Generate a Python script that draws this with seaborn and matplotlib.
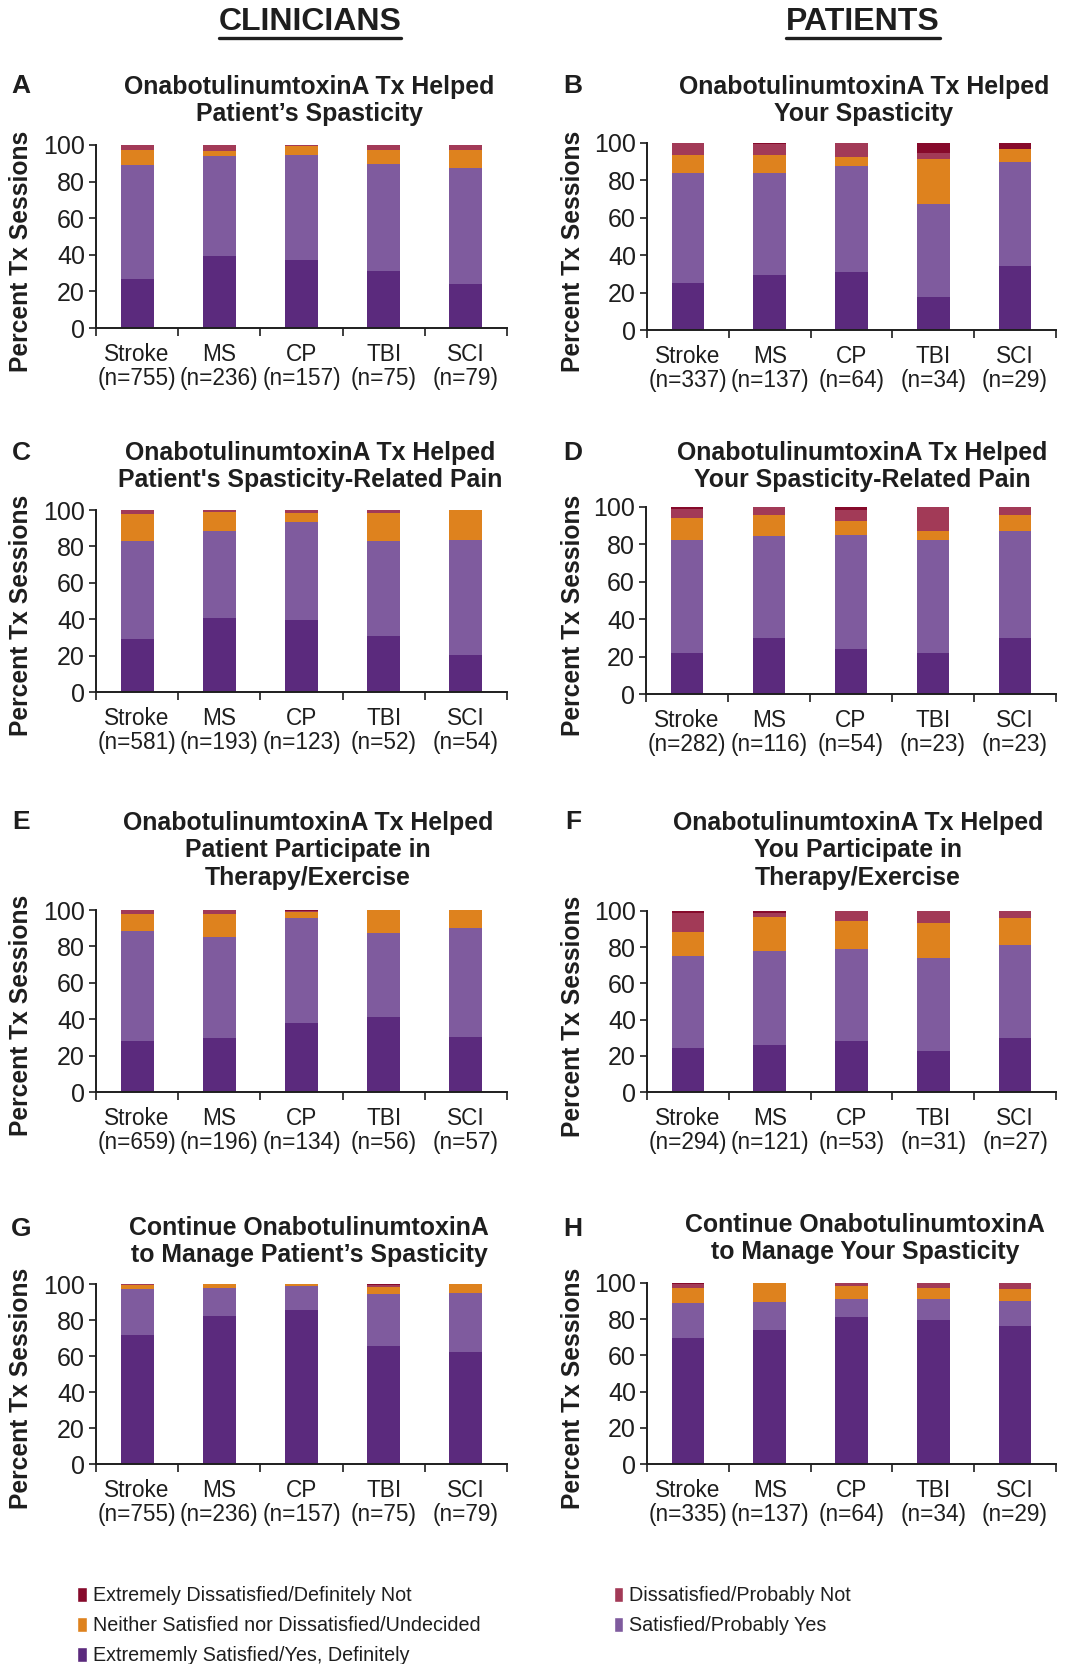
import matplotlib
matplotlib.use("Agg")
import matplotlib.pyplot as plt
from matplotlib.patches import Patch
from matplotlib.lines import Line2D
import seaborn as sns

# ---------------- data ----------------
categories = ["Stroke", "MS", "CP", "TBI", "SCI"]
levels = ["Extremely Dissatisfied/Definitely Not", "Dissatisfied/Probably Not",
          "Neither Satisfied nor Dissatisfied/Undecided", "Satisfied/Probably Yes",
          "Extrememly Satisfied/Yes, Definitely"]

n_A = [755, 236, 157, 75, 79]
n_B = [337, 137, 64, 34, 29]
n_C = [581, 193, 123, 52, 54]
n_D = [282, 116, 54, 23, 23]
n_E = [659, 196, 134, 56, 57]
n_F = [294, 121, 53, 31, 27]
n_G = [755, 236, 157, 75, 79]
n_H = [335, 137, 64, 34, 29]

# segments per panel, bottom to top: ext. satisfied, satisfied, neither, dissatisfied, ext. dissatisfied
A_ext_sat = [27.0, 39.5, 37.0, 31.0, 24.0]
A_sat = [62.0, 54.7, 57.4, 58.5, 63.5]
A_neither = [8.3, 2.3, 4.9, 7.8, 10.0]
A_dissat = [2.7, 3.5, 0.7, 2.7, 2.5]
A_ext_dis = [0.0, 0.0, 0.0, 0.0, 0.0]

B_ext_sat = [25.2, 29.3, 31.1, 17.7, 34.3]
B_sat = [58.5, 54.8, 56.7, 49.9, 55.3]
B_neither = [9.7, 9.6, 4.9, 23.6, 7.2]
B_dissat = [6.6, 5.8, 7.3, 3.3, 0.0]
B_ext_dis = [0.0, 0.5, 0.0, 5.5, 3.2]

C_ext_sat = [28.9, 40.5, 39.7, 30.8, 20.5]
C_sat = [54.3, 48.1, 53.9, 52.0, 62.8]
C_neither = [14.4, 10.5, 4.6, 15.4, 16.7]
C_dissat = [2.4, 0.9, 1.8, 1.8, 0.0]
C_ext_dis = [0.0, 0.0, 0.0, 0.0, 0.0]

D_ext_sat = [21.7, 29.9, 23.9, 21.7, 30.1]
D_sat = [60.8, 54.4, 61.3, 60.8, 56.9]
D_neither = [11.8, 11.4, 7.3, 4.5, 8.7]
D_dissat = [4.6, 4.3, 5.9, 13.0, 4.3]
D_ext_dis = [1.1, 0.0, 1.6, 0.0, 0.0]

E_ext_sat = [27.8, 29.5, 38.1, 41.0, 30.0]
E_sat = [60.7, 55.7, 57.5, 46.5, 59.9]
E_neither = [9.5, 12.4, 3.5, 12.5, 10.1]
E_dissat = [2.0, 2.4, 0.4, 0.0, 0.0]
E_ext_dis = [0.0, 0.0, 0.5, 0.0, 0.0]

F_ext_sat = [24.4, 25.7, 28.3, 22.4, 29.6]
F_sat = [51.0, 52.1, 50.9, 51.7, 51.7]
F_neither = [13.0, 19.1, 15.3, 19.3, 14.8]
F_dissat = [10.7, 2.2, 5.5, 6.6, 3.9]
F_ext_dis = [0.9, 0.9, 0.0, 0.0, 0.0]

G_ext_sat = [71.6, 82.4, 85.3, 65.5, 62.2]
G_sat = [25.8, 15.4, 13.8, 29.1, 32.8]
G_neither = [2.0, 2.2, 0.9, 3.9, 5.0]
G_dissat = [0.6, 0.0, 0.0, 1.0, 0.0]
G_ext_dis = [0.0, 0.0, 0.0, 0.5, 0.0]

H_ext_sat = [69.4, 73.8, 81.2, 79.4, 76.1]
H_sat = [19.4, 15.5, 9.8, 11.8, 13.8]
H_neither = [8.4, 10.7, 7.5, 5.8, 6.8]
H_dissat = [2.2, 0.0, 1.5, 3.0, 3.3]
H_ext_dis = [0.6, 0.0, 0.0, 0.0, 0.0]

titles = {
    "A": "OnabotulinumtoxinA Tx Helped\nPatient\u2019s Spasticity",
    "B": "OnabotulinumtoxinA Tx Helped\nYour Spasticity",
    "C": "OnabotulinumtoxinA Tx Helped\nPatient's Spasticity-Related Pain",
    "D": "OnabotulinumtoxinA Tx Helped\nYour Spasticity-Related Pain",
    "E": "OnabotulinumtoxinA Tx Helped\nPatient Participate in\nTherapy/Exercise",
    "F": "OnabotulinumtoxinA Tx Helped\nYou Participate in\nTherapy/Exercise",
    "G": "Continue OnabotulinumtoxinA\nto Manage Patient\u2019s Spasticity",
    "H": "Continue OnabotulinumtoxinA\nto Manage Your Spasticity",
}

panels = {
    "A": (n_A, [A_ext_sat, A_sat, A_neither, A_dissat, A_ext_dis]),
    "B": (n_B, [B_ext_sat, B_sat, B_neither, B_dissat, B_ext_dis]),
    "C": (n_C, [C_ext_sat, C_sat, C_neither, C_dissat, C_ext_dis]),
    "D": (n_D, [D_ext_sat, D_sat, D_neither, D_dissat, D_ext_dis]),
    "E": (n_E, [E_ext_sat, E_sat, E_neither, E_dissat, E_ext_dis]),
    "F": (n_F, [F_ext_sat, F_sat, F_neither, F_dissat, F_ext_dis]),
    "G": (n_G, [G_ext_sat, G_sat, G_neither, G_dissat, G_ext_dis]),
    "H": (n_H, [H_ext_sat, H_sat, H_neither, H_dissat, H_ext_dis]),
}

# colours bottom to top
seg_colors = ["#5B2A7D", "#7F5B9E", "#DE821E", "#A23A57", "#860A2B"]

# ---------------- layout (pixels) ----------------
W, H = 1073, 1664
boxes = {
    "A": (96, 145, 507, 328), "B": (647, 143, 1056, 330),
    "C": (96, 510, 507, 692), "D": (646, 507, 1056, 694),
    "E": (96, 910, 507, 1092), "F": (647, 911, 1056, 1092),
    "G": (96, 1284, 507, 1464), "H": (647, 1283, 1056, 1464),
}
title_tops = {"A": 75, "B": 75, "C": 441, "D": 441, "E": 811, "F": 811, "G": 1216, "H": 1213}
title_cx = {"A": 309, "B": 864, "C": 310, "D": 862, "E": 308, "F": 858, "G": 309, "H": 865}
letter_pos = {"A": (21, 86), "B": (573, 86), "C": (21, 453), "D": (573, 453),
              "E": (21, 822), "F": (573, 822), "G": (21, 1229), "H": (573, 1229)}

sns.set_style("ticks")
plt.rcParams["font.family"] = ["Liberation Sans", "DejaVu Sans"]
INK = "#1e1e1e"

fig = plt.figure(figsize=(W / 100, H / 100), dpi=100)

for key, (nvals, segs) in panels.items():
    l, t, r, b = boxes[key]
    ax = fig.add_axes([l / W, 1 - b / H, (r - l) / W, (b - t) / H])
    xlabels = [f"{c}\n(n={n})" for c, n in zip(categories, nvals)]
    cums = []
    run = [0.0] * len(categories)
    for s in segs:
        run = [a + v for a, v in zip(run, s)]
        cums.append(list(run))
    for k in range(len(segs) - 1, -1, -1):
        sns.barplot(x=xlabels, y=cums[k], order=xlabels, color=seg_colors[k],
                    saturation=1, width=0.4, errorbar=None, ax=ax,
                    edgecolor="none", linewidth=0)
    ax.set_xlim(-0.5, len(categories) - 0.5)
    ax.set_ylim(0, 100)
    ax.set_yticks([0, 20, 40, 60, 80, 100])
    ax.set_xticks([i - 0.5 for i in range(len(categories) + 1)], minor=True)
    ax.tick_params(axis="x", which="major", length=0, labelsize=16.3, pad=11, colors=INK)
    ax.tick_params(axis="x", which="minor", length=6, width=1.2, direction="out", color=INK)
    ax.tick_params(axis="y", which="major", length=5, width=1.2, direction="out",
                   labelsize=18, pad=3, colors=INK)
    for lbl in ax.get_xticklabels():
        lbl.set_linespacing(1.05)
    for sp in ["top", "right"]:
        ax.spines[sp].set_visible(False)
    for sp in ["left", "bottom"]:
        ax.spines[sp].set_linewidth(1.4)
        ax.spines[sp].set_color(INK)
    ax.set_xlabel("")
    ax.set_ylabel("Percent Tx Sessions", fontsize=17.7, fontweight="bold", color=INK)
    ax.yaxis.set_label_coords(-(l - (573 if l > 500 else 21) - 12) / (r - l), 0.42)
    fig.text(title_cx[key] / W, 1 - title_tops[key] / H, titles[key], ha="center", va="top",
             fontsize=17.9, fontweight="bold", color=INK, linespacing=1.18)
    lx, ly = letter_pos[key]
    fig.text(lx / W, 1 - ly / H, key, ha="center", va="center", fontsize=19,
             fontweight="bold", color=INK)

# headers
hdrs = []
for txt, cx in [("CLINICIANS", 310), ("PATIENTS", 863)]:
    hdrs.append(fig.text(cx / W, 1 - 22 / H, txt, ha="center", va="center",
                         fontsize=23, fontweight="bold", color=INK))

# legend
handles = [Patch(facecolor=seg_colors[4]), Patch(facecolor=seg_colors[2]), Patch(facecolor=seg_colors[0]),
           Patch(facecolor=seg_colors[3]), Patch(facecolor=seg_colors[1])]
labels = [levels[0], levels[2], levels[4], levels[1], levels[3]]
fig.legend(handles, labels, loc="upper left", bbox_to_anchor=(77 / W, 1 - 1586 / H), ncol=2,
           frameon=False, prop={"family": ["Liberation Sans", "DejaVu Sans"], "size": 14.2},
           handlelength=0.5, handleheight=0.8, handletextpad=0.3,
           columnspacing=6.75, labelspacing=0.57, borderaxespad=0, borderpad=0,
           labelcolor=INK)

# underline headers
fig.canvas.draw()
rend = fig.canvas.get_renderer()
for h in hdrs:
    bb = h.get_window_extent(rend)
    y = bb.y0 - 1
    fig.add_artist(Line2D([bb.x0 / W, bb.x1 / W], [y / H, y / H], transform=fig.transFigure,
                          color=INK, linewidth=2.4))

fig.savefig("out.png", dpi=100)
